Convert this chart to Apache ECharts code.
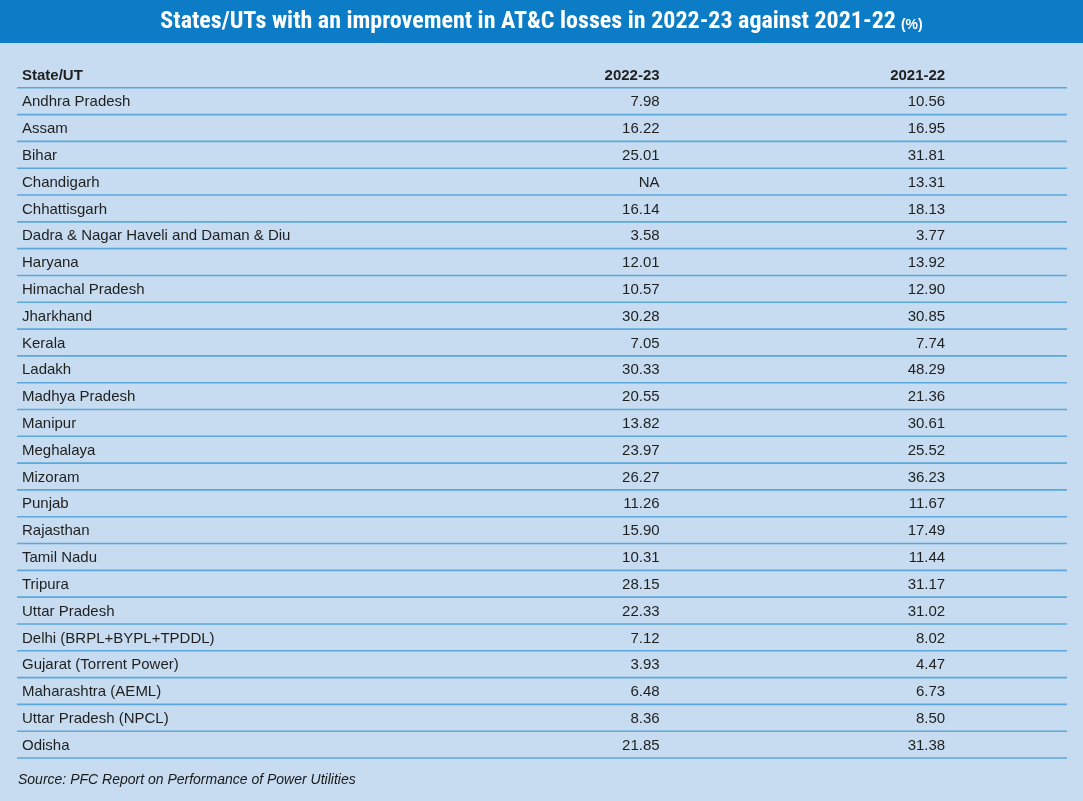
<!DOCTYPE html>
<html>
<head>
<meta charset="utf-8">
<script src="https://cdn.jsdelivr.net/npm/echarts@6/dist/echarts.min.js"></script>
<style>html,body{margin:0;padding:0;background:#c7dcf0}#main{width:1083px;height:801px}</style>
</head>
<body>
<div id="main"></div>
<script>
var headers = ['State/UT', '2022-23', '2021-22'];
var states = ['Andhra Pradesh', 'Assam', 'Bihar', 'Chandigarh', 'Chhattisgarh',
    'Dadra & Nagar Haveli and Daman & Diu', 'Haryana', 'Himachal Pradesh', 'Jharkhand',
    'Kerala', 'Ladakh', 'Madhya Pradesh', 'Manipur', 'Meghalaya', 'Mizoram', 'Punjab',
    'Rajasthan', 'Tamil Nadu', 'Tripura', 'Uttar Pradesh', 'Delhi (BRPL+BYPL+TPDDL)',
    'Gujarat (Torrent Power)', 'Maharashtra (AEML)', 'Uttar Pradesh (NPCL)', 'Odisha'];
var loss2023 = ['7.98', '16.22', '25.01', 'NA', '16.14', '3.58', '12.01', '10.57', '30.28',
    '7.05', '30.33', '20.55', '13.82', '23.97', '26.27', '11.26', '15.90', '10.31', '28.15',
    '22.33', '7.12', '3.93', '6.48', '8.36', '21.85'];
var loss2022 = ['10.56', '16.95', '31.81', '13.31', '18.13', '3.77', '13.92', '12.90', '30.85',
    '7.74', '48.29', '21.36', '30.61', '25.52', '36.23', '11.67', '17.49', '11.44', '31.17',
    '31.02', '8.02', '4.47', '6.73', '8.50', '31.38'];

var rows = [headers];
for (var i = 0; i < states.length; i++) {
    rows.push([states[i], loss2023[i], loss2022[i]]);
}
var rowIdx = rows.map(function (r, i) { return i; });

var chart = echarts.init(document.getElementById('main'));
chart.setOption({
    backgroundColor: '#c7dcf0',
    title: {
        text: '{t|States/UTs with an improvement in AT&C losses in 2022-23 against 2021-22} {p|(%)}',
        left: 'center', top: 5,
        textStyle: {
            rich: {
                t: {color: '#fff', fontSize: 24, fontWeight: 'bold',
                    fontFamily: '"Liberation Sans Narrow", "Roboto Condensed", sans-serif'},
                p: {color: '#fff', fontSize: 14, fontWeight: 'bold', padding: [6, 0, 0, 0],
                    fontFamily: '"Liberation Sans Narrow", sans-serif'}
            }
        }
    },
    grid: {left: 17, right: 16, top: 61, bottom: 43},
    xAxis: {type: 'value', min: 0, max: 1, show: false},
    yAxis: {type: 'category', data: rowIdx, inverse: true, show: false},
    graphic: [{
        type: 'rect', left: 0, top: 0, shape: {width: 1083, height: 43},
        style: {fill: '#0b7cc5'}, z: -1
    }, {
        type: 'text', left: 18, top: 773,
        style: {text: 'Source: PFC Report on Performance of Power Utilities', fontSize: 14,
            fontStyle: 'italic', fontFamily: 'Arial, "Liberation Sans", sans-serif', fill: '#1a1a1a'}
    }],
    series: [{
        type: 'custom',
        data: rowIdx,
        encode: {y: 0},
        renderItem: function (params, api) {
            var i = api.value(0);
            var left = api.coord([0, i]);
            var right = api.coord([1, i]);
            var h = api.size([0, 1])[1];
            var y = left[1];
            var r = rows[i];
            var bold = i === 0 ? 'bold' : 'normal';
            var font = {fontSize: 15, fontFamily: 'Arial, "Liberation Sans", sans-serif', fontWeight: bold, fill: '#1f1f1f'};
            var w = right[0] - left[0];
            function txt(s, x, align) {
                return {type: 'text', style: Object.assign({text: s, x: x, y: y + 1, align: align, verticalAlign: 'middle'}, font)};
            }
            return {
                type: 'group',
                children: [
                    txt(r[0], left[0] + 5, 'left'),
                    txt(r[1], left[0] + w * 0.612, 'right'),
                    txt(r[2], left[0] + w * 0.884, 'right'),
                    {type: 'line', shape: {x1: left[0], y1: y + h / 2, x2: right[0], y2: y + h / 2},
                        style: {stroke: '#5aa8dc', lineWidth: 1.6}}
                ]
            };
        }
    }]
});
</script>
</body>
</html>
